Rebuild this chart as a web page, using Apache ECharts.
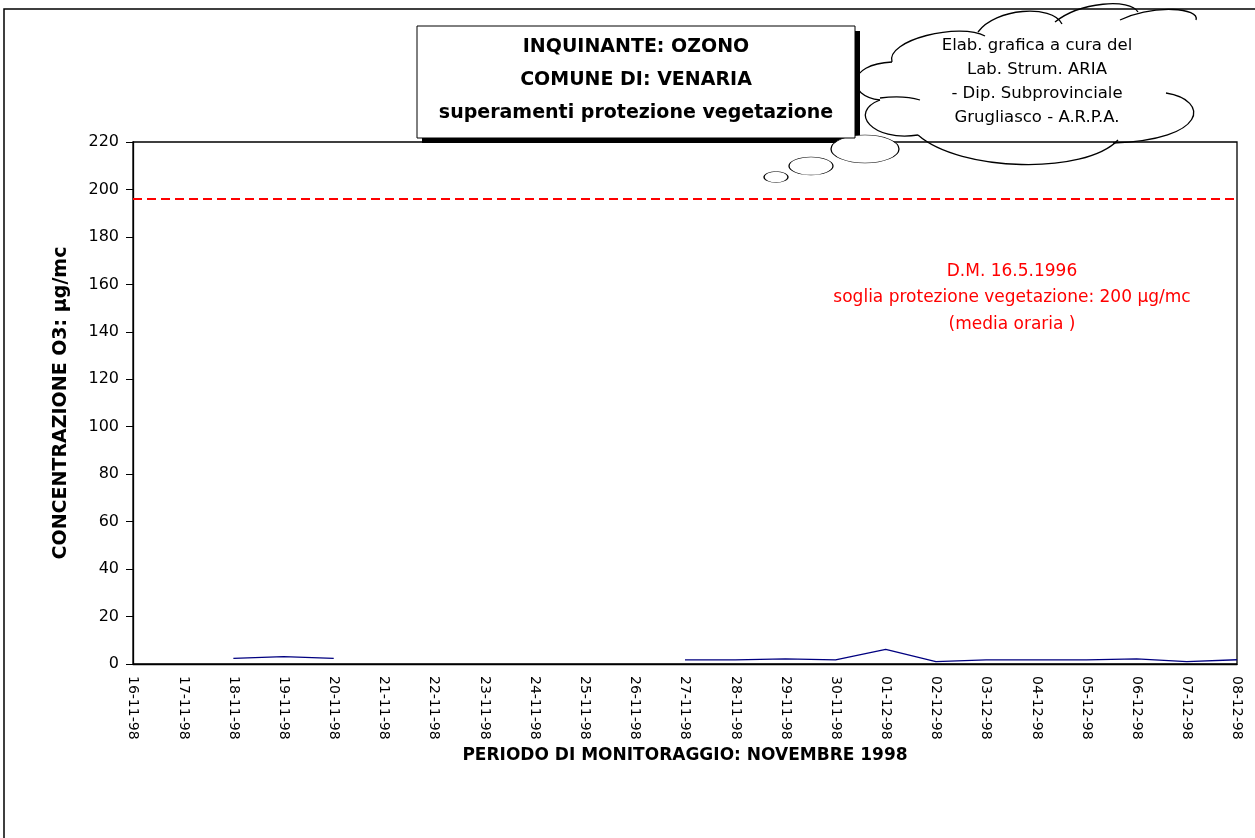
<!DOCTYPE html>
<html>
<head>
<meta charset="utf-8">
<script src="https://cdn.jsdelivr.net/npm/echarts@6/dist/echarts.min.js"></script>
<style>
html,body{margin:0;padding:0;background:#fff;}
#chart{width:1255px;height:838px;}
</style>
</head>
<body>
<div id="chart"></div>
<script>
// ---- data ----
const categories = ['16-11-98','17-11-98','18-11-98','19-11-98','20-11-98','21-11-98','22-11-98','23-11-98','24-11-98','25-11-98','26-11-98','27-11-98','28-11-98','29-11-98','30-11-98','01-12-98','02-12-98','03-12-98','04-12-98','05-12-98','06-12-98','07-12-98','08-12-98'];
const ozoneValues = [null, null, 2.4, 3.1, 2.4, null, null, null, null, null, null, 1.7, 1.7, 2.2, 1.7, 6.2, 1.0, 1.7, 1.7, 1.7, 2.2, 1.0, 1.8];
const thresholdDrawn = 196;
const yTicks = { min: 0, max: 220, interval: 20 };
const titleLines = ['INQUINANTE: OZONO', 'COMUNE DI: VENARIA', 'superamenti protezione vegetazione'];
const cloudLines = ['Elab. grafica a cura del', 'Lab. Strum. ARIA', '- Dip. Subprovinciale', 'Grugliasco - A.R.P.A.'];
const noteLines = ['D.M. 16.5.1996', 'soglia protezione vegetazione: 200 µg/mc', '(media oraria )'];
const yAxisName = 'CONCENTRAZIONE O3: µg/mc';
const xAxisName = 'PERIODO DI MONITORAGGIO: NOVEMBRE 1998';

const FONT = '"DejaVu Sans", "Liberation Sans", Arial, sans-serif';
const chart = echarts.init(document.getElementById('chart'), null, { renderer: 'canvas' });

// cloud lobes as cubic bezier segments [x1,y1,cp1x,cp1y,cp2x,cp2y,x2,y2]
const cloudLobes = [
  [892, 62, 885, 40, 960, 22, 985, 36],
  [978, 32, 995, 8, 1052, 4, 1062, 24],
  [1055, 22, 1080, 2, 1130, -2, 1138, 12],
  [1120, 20, 1155, 4, 1200, 8, 1196, 20],
  [1166, 93, 1210, 100, 1208, 140, 1113, 143],
  [1118, 140, 1085, 175, 960, 172, 918, 135],
  [918, 135, 872, 142, 848, 112, 880, 100],
  [880, 100, 846, 96, 846, 64, 892, 62],
  [880, 98, 895, 96, 910, 97, 920, 100]
];
const bubble = (cx, cy, rx, ry) => ({
  type: 'circle', z: 101, x: cx, y: cy, scaleY: ry / rx,
  shape: { cx: 0, cy: 0, r: rx },
  style: { fill: '#fff', stroke: '#000', lineWidth: 1.3, strokeNoScale: true }
});

const graphics = [
  { type: 'rect', z: 100, shape: { x: 4, y: 9, width: 1400, height: 1000 }, style: { fill: 'none', stroke: '#000', lineWidth: 1.5 } },
  { type: 'rect', z: 101, shape: { x: 422, y: 31, width: 438, height: 112 }, style: { fill: '#000' } },
  { type: 'rect', z: 102, shape: { x: 417, y: 26, width: 438, height: 112 }, style: { fill: '#fff', stroke: '#000', lineWidth: 1 } },
  { type: 'text', z: 103, style: { text: titleLines.join('\n'), x: 636, y: 31, fontFamily: FONT, fontWeight: 'bold', fontSize: 19, lineHeight: 33, align: 'center', fill: '#000' } },
  bubble(865, 149, 34, 14),
  bubble(811, 166, 22, 9),
  bubble(776, 177, 12, 5.5),
  { type: 'text', z: 103, style: { text: cloudLines.join('\n'), x: 1037, y: 34, fontFamily: FONT, fontSize: 16.5, lineHeight: 24, align: 'center', fill: '#000' } },
  { type: 'text', z: 103, style: { text: noteLines.join('\n'), x: 1012, y: 258, fontFamily: FONT, fontSize: 17, lineHeight: 26.5, align: 'center', fill: '#ff0000' } }
];
cloudLobes.forEach(l => graphics.push({
  type: 'bezierCurve', z: 101,
  shape: { x1: l[0], y1: l[1], cpx1: l[2], cpy1: l[3], cpx2: l[4], cpy2: l[5], x2: l[6], y2: l[7] },
  style: { fill: 'none', stroke: '#000', lineWidth: 1.3 }
}));

const option = {
  backgroundColor: '#ffffff',
  animation: false,
  grid: {
    left: 133, top: 142, right: 18, bottom: 174,
    show: true, borderColor: '#000', borderWidth: 1.3, backgroundColor: 'transparent'
  },
  xAxis: {
    type: 'category',
    data: categories,
    boundaryGap: false,
    axisLine: { show: true, lineStyle: { color: '#000', width: 1.3 } },
    axisTick: { show: false },
    axisLabel: { rotate: -90, color: '#000', fontFamily: FONT, fontSize: 14, margin: 12, interval: 0 },
    splitLine: { show: false },
    name: xAxisName,
    nameLocation: 'middle',
    nameGap: 77,
    nameTextStyle: { color: '#000', fontFamily: FONT, fontWeight: 'bold', fontSize: 17 }
  },
  yAxis: {
    type: 'value',
    min: yTicks.min, max: yTicks.max, interval: yTicks.interval,
    axisLine: { show: true, lineStyle: { color: '#000', width: 1.3 } },
    axisTick: { show: true, length: 7, lineStyle: { color: '#000' } },
    axisLabel: { color: '#000', fontFamily: FONT, fontSize: 16, margin: 14 },
    splitLine: { show: false },
    name: yAxisName,
    nameLocation: 'middle',
    nameGap: 62,
    nameTextStyle: { color: '#000', fontFamily: FONT, fontWeight: 'bold', fontSize: 19 }
  },
  series: [{
    type: 'line',
    data: ozoneValues,
    connectNulls: false,
    showSymbol: false,
    symbol: 'none',
    lineStyle: { color: '#000080', width: 1.3 },
    markLine: {
      silent: true,
      symbol: 'none',
      label: { show: false },
      lineStyle: { color: '#ff0000', type: [9, 5], width: 2 },
      data: [{ yAxis: thresholdDrawn }]
    }
  }],
  graphic: graphics
};
chart.setOption(option);
</script>
</body>
</html>
